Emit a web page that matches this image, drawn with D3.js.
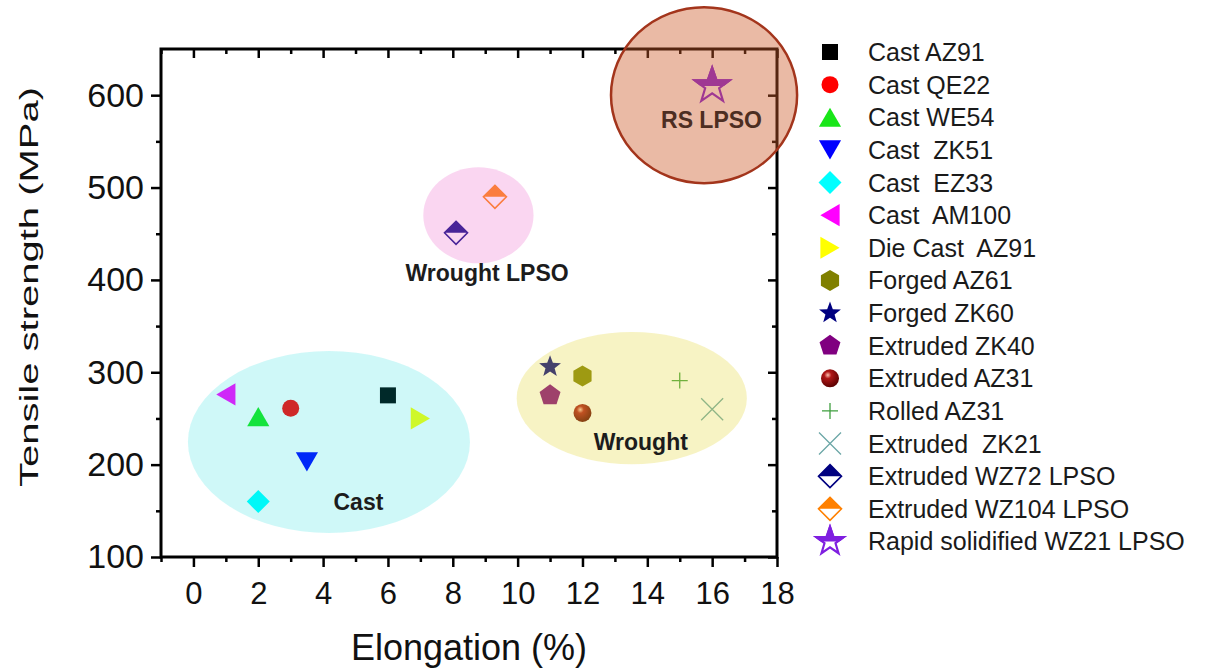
<!DOCTYPE html>
<html>
<head>
<meta charset="utf-8">
<script src="https://cdn.jsdelivr.net/npm/d3@7"></script>
<style>
  body { margin: 0; background: #fff; }
  svg { font-family: "Liberation Sans", Arial, sans-serif; }
</style>
</head>
<body>
<svg id="chart" width="1211" height="670"></svg>
<script>
// alloys, in legend order
const alloys = ["Cast AZ91", "Cast QE22", "Cast WE54", "Cast  ZK51", "Cast  EZ33", "Cast  AM100",
  "Die Cast  AZ91", "Forged AZ61", "Forged ZK60", "Extruded ZK40", "Extruded AZ31", "Rolled AZ31",
  "Extruded  ZK21", "Extruded WZ72 LPSO", "Extruded WZ104 LPSO", "Rapid solidified WZ21 LPSO"];
const elongation = [6, 3, 2, 3.5, 2, 1, 7, 12, 11, 11, 12, 15, 16, 8.1, 9.3, 16];
const strength = [275, 261, 252, 203, 160, 276, 250, 296, 306, 275, 256, 291, 260, 451, 490, 610];
const shapes = ["square", "circle", "triUp", "triDown", "diamond", "triLeft", "triRight", "hexagon",
  "star", "pentagon", "sphere", "plus", "cross", "halfDiamond", "halfDiamond", "halfStar"];
const colors = ["#000000", "#ff0000", "#19e619", "#0000ff", "#00ffff", "#ff00ff", "#ffff00", "#808000",
  "#000080", "#800080", "#800000", "#3f9f3f", "#6aa6a6", "#000080", "#ff8000", "#7f1fe0"];

// highlighted groups (ellipses, in data units)
const groups = ["Cast", "Wrought", "Wrought LPSO", "RS LPSO"];
const groupCx = [4.18, 13.52, 8.79, 15.75];
const groupCy = [224.5, 272, 470, 600];
const groupRx = [4.35, 3.55, 1.7, 2.87];
const groupRy = [98.5, 71.5, 52, 95.3];
const labelX = [5.09, 13.8, 9.06, 15.98];
const labelY = [159.5, 224, 408, 573.5];

const xTicks = [0, 2, 4, 6, 8, 10, 12, 14, 16, 18];
const xMinor = [-1, 1, 3, 5, 7, 9, 11, 13, 15, 17];
const yTicks = [100, 200, 300, 400, 500, 600];
const yMinor = [150, 250, 350, 450, 550];

const groupFill = ["rgb(0,220,220)", "rgb(230,215,60)", "rgb(240,120,210)", "rgb(205,90,40)"];
const groupAlpha = [0.19, 0.3, 0.3, 0.42];

const svg = d3.select("#chart");
const x = d3.scaleLinear().domain([-1, 18]).range([161, 777]);
const y = d3.scaleLinear().domain([100, 650]).range([557, 49]);

const defs = svg.append("defs");
const grad = defs.append("radialGradient").attr("id", "sphere")
  .attr("cx", "38%").attr("cy", "32%").attr("r", "70%");
grad.append("stop").attr("offset", "0%").attr("stop-color", "#ffc0b0");
grad.append("stop").attr("offset", "28%").attr("stop-color", "#b01818");
grad.append("stop").attr("offset", "100%").attr("stop-color", "#5a0000");
defs.append("clipPath").attr("id", "topHalf")
  .append("rect").attr("x", -30).attr("y", -30).attr("width", 60).attr("height", 30);

// axes
function styleAxis(g, labels, size) {
  g.select(".domain").remove();
  g.selectAll(".tick line").attr("stroke", "#000").attr("stroke-width", 2.5);
  g.selectAll(".tick text").attr("fill", "#111").style("font-size", size + "px")
    .style("font-family", "'Liberation Sans', Arial, sans-serif");
  if (!labels) g.selectAll(".tick text").remove();
}
const axes = svg.append("g");
axes.append("g").attr("transform", `translate(0,${y(100)})`)
  .call(d3.axisBottom(x).tickValues(xTicks).tickSize(10).tickPadding(15))
  .call(g => styleAxis(g, true, 31));
axes.append("g").attr("transform", `translate(0,${y(100)})`)
  .call(d3.axisBottom(x).tickValues(xMinor).tickSize(5))
  .call(g => styleAxis(g, false));
axes.append("g").attr("transform", `translate(0,${y(650)})`)
  .call(d3.axisTop(x).tickValues(xTicks).tickSize(-9))
  .call(g => styleAxis(g, false));
axes.append("g").attr("transform", `translate(0,${y(650)})`)
  .call(d3.axisTop(x).tickValues(xMinor).tickSize(-5))
  .call(g => styleAxis(g, false));
axes.append("g").attr("transform", `translate(${x(-1)},0)`)
  .call(d3.axisLeft(y).tickValues(yTicks).tickSize(10).tickPadding(7))
  .call(g => styleAxis(g, true, 34));
axes.append("g").attr("transform", `translate(${x(-1)},0)`)
  .call(d3.axisLeft(y).tickValues(yMinor).tickSize(5))
  .call(g => styleAxis(g, false));
axes.append("g").attr("transform", `translate(${x(18)},0)`)
  .call(d3.axisRight(y).tickValues(yTicks).tickSize(-9))
  .call(g => styleAxis(g, false));
axes.append("g").attr("transform", `translate(${x(18)},0)`)
  .call(d3.axisRight(y).tickValues(yMinor).tickSize(-5))
  .call(g => styleAxis(g, false));
axes.append("rect")
  .attr("x", x(-1)).attr("y", y(650))
  .attr("width", x(18) - x(-1)).attr("height", y(100) - y(650))
  .attr("fill", "none").attr("stroke", "#000").attr("stroke-width", 3);

// axis titles
svg.append("text")
  .attr("transform", "translate(38,287) rotate(-90)")
  .attr("text-anchor", "middle").attr("font-size", 26)
  .attr("textLength", 400).attr("lengthAdjust", "spacingAndGlyphs")
  .attr("fill", "#111").text("Tensile strength (MPa)");
svg.append("text")
  .attr("x", (x(-1) + x(18)) / 2).attr("y", 660)
  .attr("text-anchor", "middle").attr("font-size", 36)
  .attr("fill", "#111").text("Elongation (%)");

// marker shapes
function poly(n, r, rot) {
  const p = d3.path();
  for (let k = 0; k < n; k++) {
    const a = (rot + k * 360 / n - 90) * Math.PI / 180;
    if (k) p.lineTo(r * Math.cos(a), r * Math.sin(a)); else p.moveTo(r * Math.cos(a), r * Math.sin(a));
  }
  p.closePath();
  return p.toString();
}
function starPath(ro, ri) {
  const p = d3.path();
  for (let k = 0; k < 10; k++) {
    const r = k % 2 ? ri : ro;
    const a = (k * 36 - 90) * Math.PI / 180;
    if (k) p.lineTo(r * Math.cos(a), r * Math.sin(a)); else p.moveTo(r * Math.cos(a), r * Math.sin(a));
  }
  p.closePath();
  return p.toString();
}
function drawMarker(g, shape, color, big) {
  const tri = { triUp: 0, triDown: 180, triLeft: -90, triRight: 90 };
  if (shape === "square") g.append("path").attr("d", poly(4, 8 * Math.SQRT2, 45)).attr("fill", color);
  else if (shape === "circle") g.append("circle").attr("r", 8.5).attr("fill", color);
  else if (shape in tri) g.append("path").attr("d", poly(3, 12.8, 0))
    .attr("transform", `rotate(${tri[shape]}) translate(0,3.2)`).attr("fill", color);
  else if (shape === "diamond") g.append("path").attr("d", poly(4, 11.5, 0)).attr("fill", color);
  else if (shape === "hexagon") g.append("path").attr("d", poly(6, 10.5, 0)).attr("fill", color);
  else if (shape === "pentagon") g.append("path").attr("d", poly(5, 11, 0)).attr("fill", color);
  else if (shape === "star") g.append("path").attr("d", starPath(11.5, 4.8)).attr("fill", color);
  else if (shape === "sphere") g.append("circle").attr("r", 9).attr("fill", "url(#sphere)");
  else if (shape === "plus") g.append("path").attr("d", "M-8,0H8M0,-8V8")
    .attr("stroke", color).attr("stroke-width", 1.3).attr("fill", "none");
  else if (shape === "cross") g.append("path").attr("d", "M-11,-11L11,11M-11,11L11,-11")
    .attr("stroke", color).attr("stroke-width", 1.3).attr("fill", "none");
  else if (shape === "halfDiamond") {
    g.append("path").attr("d", poly(4, 11.5, 0)).attr("fill", "#fff")
      .attr("stroke", color).attr("stroke-width", 1.6);
    g.append("path").attr("d", poly(4, 11.5, 0)).attr("fill", color).attr("clip-path", "url(#topHalf)");
  } else if (shape === "halfStar") {
    const ro = big ? 18.4 : 14.5;
    g.append("path").attr("d", starPath(ro, ro * 0.4)).attr("fill", "#fff")
      .attr("stroke", color).attr("stroke-width", 2.2).attr("stroke-linejoin", "miter");
    g.append("path").attr("d", starPath(ro, ro * 0.4)).attr("fill", color)
      .attr("stroke", color).attr("stroke-width", 2.2).attr("clip-path", "url(#topHalf)");
  }
}

// data points
svg.append("g").selectAll("g").data(alloys).join("g")
  .attr("transform", (d, i) => `translate(${x(elongation[i])},${y(strength[i])})`)
  .each(function (d, i) { drawMarker(d3.select(this), shapes[i], colors[i], true); });

// group highlights, drawn over the points
svg.append("g").selectAll("ellipse").data(groups).join("ellipse")
  .attr("cx", (d, i) => x(groupCx[i]))
  .attr("cy", (d, i) => y(groupCy[i]))
  .attr("rx", (d, i) => x(groupCx[i] + groupRx[i]) - x(groupCx[i]))
  .attr("ry", (d, i) => y(groupCy[i] - groupRy[i]) - y(groupCy[i]))
  .attr("fill", (d, i) => groupFill[i])
  .attr("fill-opacity", (d, i) => groupAlpha[i])
  .attr("stroke", (d, i) => i === 3 ? "#a3351c" : "none")
  .attr("stroke-width", 2.5);

svg.append("g").selectAll("text").data(groups).join("text")
  .attr("x", (d, i) => x(labelX[i]))
  .attr("y", (d, i) => y(labelY[i]) + 8)
  .attr("text-anchor", "middle")
  .attr("font-size", 23).attr("font-weight", "bold")
  .attr("fill", (d, i) => i === 3 ? "#4d2e22" : "#1c1c1c")
  .text(d => d);

// legend
const legend = svg.append("g").selectAll("g").data(alloys).join("g")
  .attr("transform", (d, i) => `translate(830,${52 + i * 32.63})`);
legend.each(function (d, i) { drawMarker(d3.select(this), shapes[i], colors[i], false); });
legend.append("text")
  .attr("x", 38).attr("y", 9)
  .attr("font-size", 25).attr("fill", "#1a1a1a")
  .attr("xml:space", "preserve").style("white-space", "pre")
  .text(d => d);
</script>
</body>
</html>
